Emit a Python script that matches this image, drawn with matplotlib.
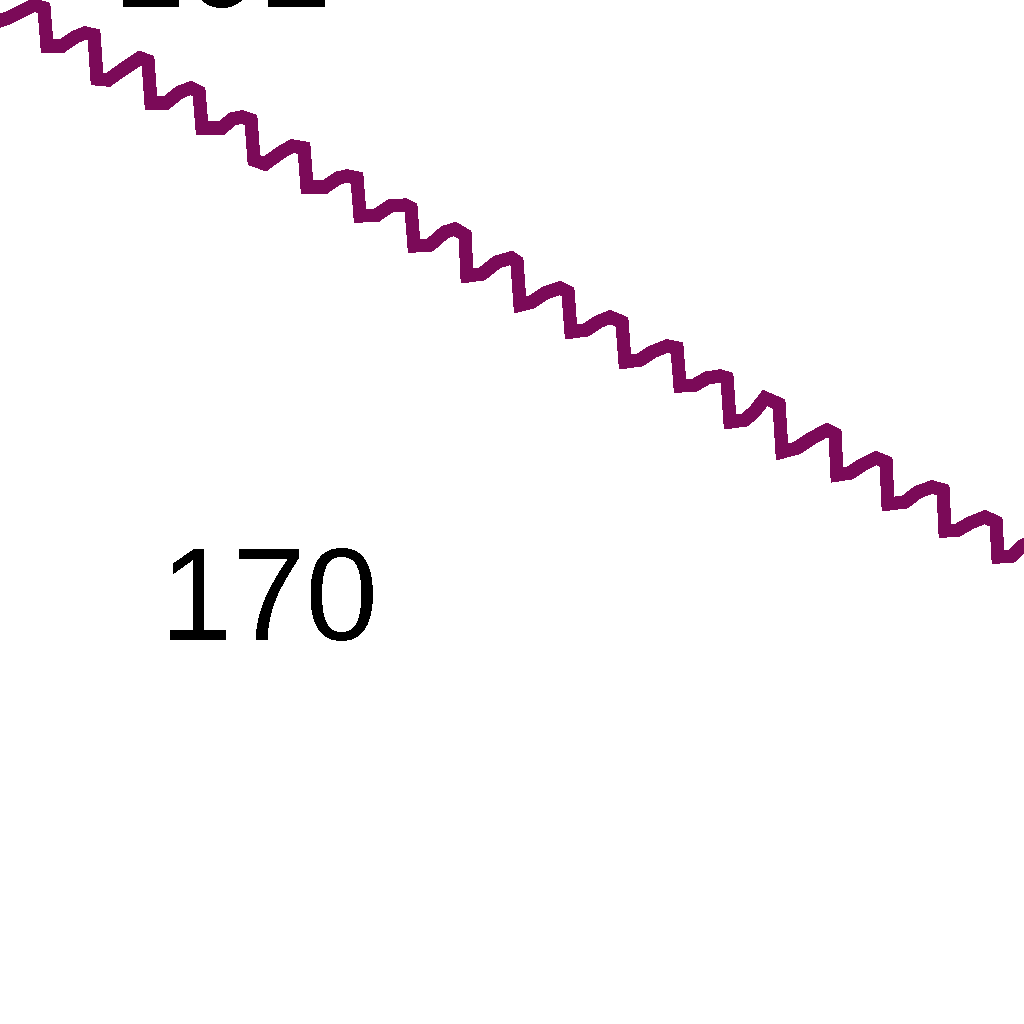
import matplotlib
matplotlib.use("Agg")
import matplotlib.pyplot as plt

# line vertices (x in chart units, y in value units)
xs = [-1.0, 0.8, 2.2, 3.4, 4.4,
      4.7, 6.2, 7.5, 8.5, 9.4,
      9.7, 10.8, 12.2, 14.0, 14.8,
      15.1, 16.6, 18.0, 19.1, 19.9,
      20.2, 22.2, 23.2, 24.2, 25.1,
      25.4, 26.5, 28.0, 29.2, 30.4,
      30.7, 32.5, 33.8, 34.7, 35.7,
      36.0, 37.7, 39.0, 40.5, 41.1,
      41.4, 43.0, 44.5, 45.5, 46.5,
      46.7, 48.2, 49.7, 51.1, 51.7,
      52.0, 53.2, 54.5, 56.0, 56.8,
      57.1, 58.6, 59.8, 61.0, 62.2,
      62.5, 64.0, 65.2, 66.7, 67.7,
      68.0, 69.5, 70.7, 72.0, 72.7,
      73.0, 74.5, 75.5, 76.5, 77.9,
      78.2, 79.7, 81.2, 82.7, 83.5,
      83.7, 85.0, 86.2, 87.6, 88.6,
      88.8, 90.5, 91.8, 93.2, 94.3,
      94.5, 95.8, 97.0, 98.5, 99.6,
      99.8, 101.2, 102.2, 103.4]
ys = [100.0, 100.6, 101.3, 101.9, 101.6,
      97.8, 97.8, 98.7, 99.1, 98.9,
      94.5, 94.4, 95.4, 96.6, 96.3,
      92.1, 92.1, 93.2, 93.6, 93.2,
      89.6, 89.6, 90.5, 90.7, 90.4,
      86.4, 86.0, 87.1, 87.8, 87.6,
      83.7, 83.7, 84.6, 84.8, 84.6,
      80.8, 80.9, 81.8, 81.9, 81.6,
      77.8, 77.9, 79.2, 79.5, 78.9,
      74.8, 75.0, 76.2, 76.6, 76.2,
      71.9, 72.2, 73.1, 73.6, 73.2,
      69.2, 69.4, 70.2, 70.7, 70.2,
      66.2, 66.4, 67.2, 67.8, 67.6,
      63.8, 63.9, 64.6, 64.8, 64.6,
      60.2, 60.4, 61.3, 62.6, 62.0,
      57.2, 57.6, 58.6, 59.4, 59.0,
      54.9, 55.1, 55.9, 56.6, 56.2,
      52.0, 52.2, 53.2, 53.7, 53.4,
      49.3, 49.4, 50.1, 50.7, 50.2,
      46.7, 46.8, 47.8, 48.4]

labels = ["101", "170"]
label_x = [11.3, 16.0]
label_y = [101.7, 38.4]

fig = plt.figure(figsize=(10.24, 10.24), dpi=100)
ax = fig.add_axes([0, 0, 1, 1])
ax.plot(xs, ys, color="#7b0a58", linewidth=8.8, solid_joinstyle="miter",
        antialiased=False)

for txt, x, y in zip(labels, label_x, label_y):
    t = ax.text(x, y, txt, fontsize=94, color="black", ha="left", va="baseline",
                family=["Liberation Sans", "DejaVu Sans"])
    t.set_antialiased(False)

ax.set_xlim(0, 102.4)
ax.set_ylim(0, 102.4)
ax.axis("off")
fig.savefig("out.png", dpi=100, facecolor="white")
